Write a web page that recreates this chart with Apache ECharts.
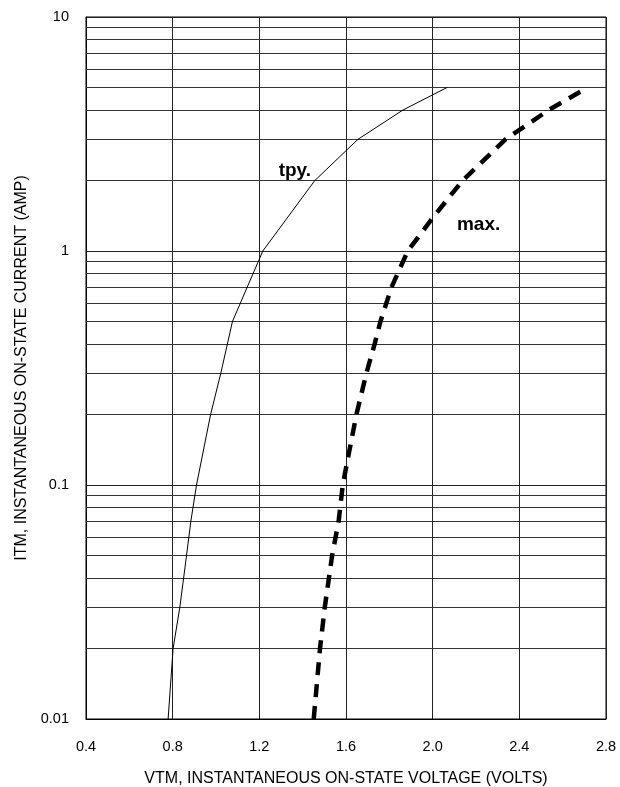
<!DOCTYPE html>
<html>
<head>
<meta charset="utf-8">
<script src="https://cdn.jsdelivr.net/npm/echarts@6/dist/echarts.min.js"></script>
<style>
html,body{margin:0;padding:0;background:#fff;}
#chart{width:620px;height:787px;}
</style>
</head>
<body>
<div id="chart"></div>
<script>
// Typical curve: voltage (V) vs current (A)
var tpyVoltage = [0.779, 0.802, 0.833, 0.864, 0.884, 0.910, 0.975, 1.022, 1.076, 1.216, 1.456, 1.655, 1.862, 2.067];
var tpyCurrent = [0.01, 0.02, 0.03, 0.05, 0.07, 0.1, 0.2, 0.3, 0.5, 1, 2, 3, 4, 5];
// Maximum curve
var maxVoltage = [1.451, 1.480, 1.502, 1.536, 1.566, 1.585, 1.648, 1.694, 1.732, 1.759, 1.810, 1.885, 2.004, 2.138, 2.336, 2.535, 2.715];
var maxCurrent = [0.01, 0.02, 0.03, 0.05, 0.07, 0.1, 0.2, 0.3, 0.4, 0.5, 0.7, 1, 1.4, 2, 3, 4, 5];
// Minor (2..9) grid values on the log axis
var minorGrid = [0.02,0.03,0.04,0.05,0.06,0.07,0.08,0.09,0.2,0.3,0.4,0.5,0.6,0.7,0.8,0.9,2,3,4,5,6,7,8,9];
var curveLabels = [
  {name: 'tpy.', v: 1.364, i: 2.2},
  {name: 'max.', v: 2.212, i: 1.29}
];
var xTitle = 'VTM, INSTANTANEOUS ON-STATE VOLTAGE (VOLTS)';
var yTitle = 'ITM, INSTANTANEOUS ON-STATE CURRENT (AMP)';

function pairs(xs, ys){ return xs.map(function(x,k){ return [x, ys[k]]; }); }

var chart = echarts.init(document.getElementById('chart'), null, {renderer:'canvas'});
var font = 'Liberation Sans, Arial, sans-serif';
chart.setOption({
  animation: false,
  backgroundColor: '#fff',
  grid: {left: 86, right: 14, top: 17, bottom: 68, containLabel: false, outerBoundsMode: 'none',
    show: true, borderColor: '#000', borderWidth: 1},
  xAxis: {
    type: 'value', min: 0.4, max: 2.8, interval: 0.4,
    name: xTitle, nameLocation: 'middle', nameGap: 52,
    nameTextStyle: {fontFamily: font, fontSize: 16, color: '#000'},
    axisLine: {show: true, lineStyle: {color: '#000', width: 1}},
    axisTick: {show: false},
    axisLabel: {fontFamily: font, fontSize: 14.5, color: '#000', margin: 20,
      formatter: function(v){ return v.toFixed(1); }},
    splitLine: {show: true, lineStyle: {color: '#222', width: 1}}
  },
  yAxis: {
    type: 'log', logBase: 10, min: 0.01, max: 10,
    name: yTitle, nameLocation: 'middle', nameGap: 53,
    nameTextStyle: {fontFamily: font, fontSize: 16, color: '#000'},
    axisLine: {show: true, lineStyle: {color: '#000', width: 1}},
    axisTick: {show: false},
    axisLabel: {fontFamily: font, fontSize: 14.5, color: '#000', margin: 17,
      formatter: function(v){ return String(+v.toPrecision(3)); }},
    splitLine: {show: true, lineStyle: {color: '#222', width: 1}}
  },
  series: [
    {
      name: 'tpy', type: 'line', data: pairs(tpyVoltage, tpyCurrent),
      symbol: 'none', smooth: false,
      lineStyle: {color: '#000', width: 1},
      z: 3,
      markLine: {
        silent: true, symbol: 'none', label: {show: false},
        lineStyle: {color: '#333', width: 1, type: 'solid'},
        data: minorGrid.map(function(v){ return {yAxis: v}; }),
        z: 1
      },
      markPoint: {
        symbol: 'circle', symbolSize: 0,
        label: {show: true, position: 'inside', fontFamily: font, fontSize: 19, fontWeight: 'bold', color: '#000',
          formatter: function(p){ return p.name; }},
        data: curveLabels.map(function(c){ return {name: c.name, coord: [c.v, c.i], value: c.name}; })
      }
    },
    {
      name: 'max', type: 'line', data: pairs(maxVoltage, maxCurrent),
      symbol: 'none', smooth: false,
      lineStyle: {color: '#000', width: 4.5, type: [13, 9], cap: 'butt'},
      z: 4
    }
  ]
});
</script>
</body>
</html>
